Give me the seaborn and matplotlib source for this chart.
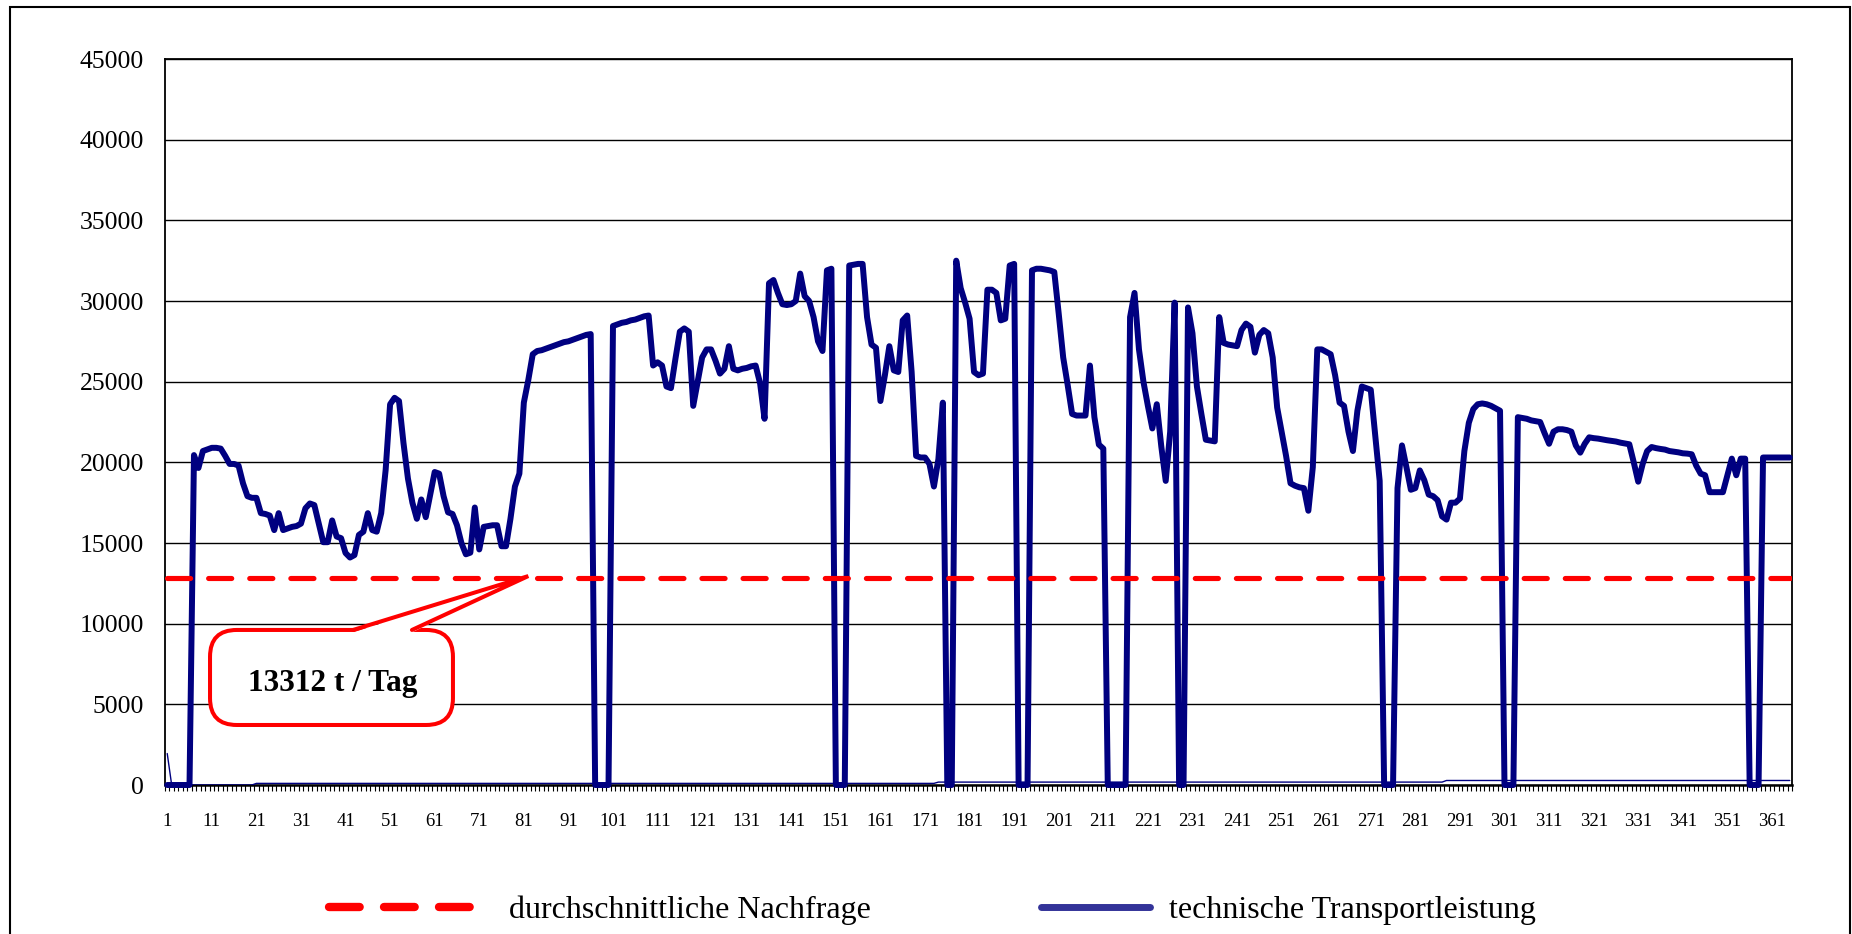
import numpy as np
import pandas as pd
import matplotlib
matplotlib.use("Agg")
import matplotlib.pyplot as plt
import seaborn as sns
from matplotlib.lines import Line2D
from matplotlib.patches import FancyBboxPatch, Polygon, Rectangle

# daily values, day 1..365
days = np.arange(1, 366)
transport = [
    0, 0, 0, 0, 0, 0, 20450, 19650, 20700, 20800,
    20900, 20900, 20850, 20400, 19900, 19900, 19800, 18700, 17900, 17800,
    17800, 16850, 16800, 16700, 15800, 16850, 15800, 15900, 16000, 16050,
    16200, 17150, 17450, 17350, 16200, 15050, 15050, 16400, 15400, 15300,
    14380, 14100, 14250, 15500, 15700, 16850, 15800, 15700, 16850, 19530,
    23600, 24000, 23800, 21200, 19000, 17500, 16500, 17700, 16600, 18000,
    19400, 19300, 17900, 16900, 16800, 16100, 15000, 14300, 14400, 17200,
    14600, 16000, 16050, 16100, 16100, 14800, 14800, 16500, 18500, 19300,
    23700, 25100, 26700, 26900, 26950, 27050, 27150, 27250, 27350, 27450,
    27500, 27600, 27700, 27800, 27900, 27950, 0, 0, 0, 0,
    28450, 28550, 28650, 28700, 28800, 28850, 28950, 29050, 29100, 26000,
    26200, 26000, 24700, 24600, 26400, 28100, 28300, 28100, 23500, 25000,
    26500, 27000, 27000, 26300, 25500, 25800, 27200, 25800, 25700, 25800,
    25850, 25950, 26000, 24900, 22700, 31100, 31300, 30500, 29800, 29750,
    29800, 30000, 31700, 30300, 30000, 29000, 27500, 26900, 31900, 32000,
    0, 0, 0, 32200, 32250, 32300, 32300, 29000, 27300, 27100,
    23800, 25400, 27200, 25700, 25600, 28800, 29100, 25600, 20400, 20300,
    20300, 19900, 18500, 20200, 23700, 0, 0, 32500, 30800, 29900,
    28900, 25600, 25400, 25500, 30700, 30700, 30500, 28800, 28900, 32200,
    32300, 0, 0, 0, 31900, 32000, 32000, 31950, 31900, 31800,
    29200, 26500, 24800, 23000, 22900, 22900, 22900, 26000, 22800, 21100,
    20850, 0, 0, 0, 0, 0, 29000, 30500, 27000, 25000,
    23500, 22100, 23600, 21000, 18850, 21900, 29900, 0, 0, 29600,
    28000, 24700, 23000, 21400, 21350, 21300, 29000, 27400, 27300, 27250,
    27200, 28200, 28600, 28400, 26800, 27900, 28200, 28000, 26500, 23400,
    21900, 20400, 18700, 18550, 18450, 18400, 17000, 19700, 27000, 27000,
    26850, 26700, 25400, 23700, 23500, 21900, 20700, 23200, 24700, 24600,
    24500, 21700, 18850, 0, 0, 0, 18400, 21050, 19700, 18300,
    18400, 19500, 18900, 18000, 17900, 17650, 16650, 16450, 17500, 17500,
    17750, 20700, 22450, 23300, 23600, 23650, 23600, 23500, 23350, 23200,
    0, 0, 0, 22800, 22750, 22700, 22600, 22550, 22500, 21800,
    21150, 21900, 22050, 22050, 22000, 21900, 21050, 20600, 21150, 21550,
    21500, 21470, 21420, 21370, 21330, 21290, 21220, 21170, 21120, 20000,
    18800, 19900, 20700, 20950, 20880, 20830, 20790, 20700, 20660, 20620,
    20560, 20540, 20500, 19800, 19300, 19200, 18150, 18150, 18150, 18150,
    19200, 20230, 19200, 20230, 20230, 0, 0, 0, 20300, 20300,
    20300, 20300, 20300, 20300, 20300,
]
# thin unlabelled series near the bottom
base_load = [1950] + [0] * 19 + [100] * 153 + [180] * 114 + [280] * 78
demand_level = 12850
demand_text = "13312 t / Tag"
legend_labels = ["durchschnittliche Nachfrage", "technische Transportleistung"]
y_ticks = list(range(0, 45001, 5000))
x_ticks = list(range(1, 366, 10))

df = pd.DataFrame({"Tag": days, "Transport": transport, "Basis": base_load})
df["Nachfrage"] = demand_level

sns.set_style("white")
plt.rcParams["font.family"] = ["Liberation Serif", "DejaVu Serif"]
plt.rcParams["text.color"] = "black"

fig = plt.figure(figsize=(18.52, 9.34), dpi=100)
ax = fig.add_axes([165 / 1852, 1 - 785 / 934, 1627 / 1852, 726 / 934])

navy = "#000080"
sns.lineplot(data=df, x="Tag", y="Transport", color=navy, lw=4.3, ax=ax,
             zorder=3, clip_on=False)
sns.lineplot(data=df, x="Tag", y="Basis", color=navy, lw=1.0, ax=ax, zorder=4)
sns.lineplot(data=df, x="Tag", y="Nachfrage", color="#ff0000", lw=3.7,
             linestyle=(0, (4.5, 3.5)), dash_capstyle="round", ax=ax, zorder=5)

ax.set_xlim(0.5, 365.5)
ax.set_ylim(0, 45000)
ax.set_xlabel("")
ax.set_ylabel("")
ax.set_yticks(y_ticks)
ax.set_yticklabels([str(v) for v in y_ticks])
ax.set_xticks(x_ticks)
ax.set_xticklabels([str(v) for v in x_ticks])
ax.set_xticks(np.arange(0.5, 366, 1), minor=True)
ax.yaxis.grid(True, color="black", lw=1.0)
ax.xaxis.grid(False)
ax.tick_params(axis="y", length=0, pad=15, labelsize=18.5, labelcolor="black")
ax.tick_params(axis="x", which="major", length=0, pad=20, labelsize=13.5,
               labelcolor="black")
ax.tick_params(axis="x", which="minor", length=4.3, width=0.8, color="black",
               direction="out", bottom=True)
for side in ["left", "right", "top"]:
    ax.spines[side].set_color("black")
    ax.spines[side].set_linewidth(1.3)
ax.spines["bottom"].set_color("black")
ax.spines["bottom"].set_linewidth(1.8)

# callout "13312 t / Tag"
box_x0, box_x1 = 10.6, 65.1
box_y0, box_y1 = 3720, 9610
wedge_l, wedge_r = 42.7, 55.9
tip_x = 82
aspect = (45000 / 726) / (365 / 1627)
box = FancyBboxPatch((box_x0, box_y0), box_x1 - box_x0, box_y1 - box_y0,
                     boxstyle="round,pad=0,rounding_size=6",
                     mutation_aspect=aspect, ec="#ff0000", fc="white",
                     lw=2.9, zorder=6)
ax.add_patch(box)
ax.add_patch(Polygon([(wedge_l, box_y1 - 150), (tip_x, demand_level + 100),
                      (wedge_r, box_y1 - 150)], closed=True, fc="white",
                     ec="none", zorder=7))
ax.plot([wedge_l, tip_x, wedge_r], [box_y1, demand_level + 100, box_y1],
        color="#ff0000", lw=2.9, solid_joinstyle="miter", zorder=8)
ax.text((box_x0 + box_x1) / 2 + 0.3, 6320, demand_text, ha="center",
        va="center", fontsize=22.5, fontweight="bold", color="black", zorder=9)

# legend, two separate entries as in the original
red_handle = Line2D([], [], color="#ff0000", lw=6, linestyle=(0, (3.68, 2.92)),
                    dash_capstyle="round")
blue_handle = Line2D([], [], color="#333399", lw=5, solid_capstyle="round")
fig.legend([red_handle], [legend_labels[0]], loc="center left",
           bbox_to_anchor=(329 / 1852, 1 - 910 / 934), frameon=False,
           fontsize=23, handlelength=4.4, handletextpad=1.25,
           borderpad=0, borderaxespad=0, labelcolor="black")
fig.legend([blue_handle], [legend_labels[1]], loc="center left",
           bbox_to_anchor=(1041 / 1852, 1 - 910 / 934), frameon=False,
           fontsize=23, handlelength=3.4, handletextpad=0.62,
           borderpad=0, borderaxespad=0, labelcolor="black")

# outer chart frame
fig.add_artist(Rectangle((9.5 / 1852, -0.05), 1840.5 / 1852, 1.05 - 7 / 934,
                         transform=fig.transFigure, fill=False, ec="black",
                         lw=1.5))

fig.savefig("out.png", dpi=100)
